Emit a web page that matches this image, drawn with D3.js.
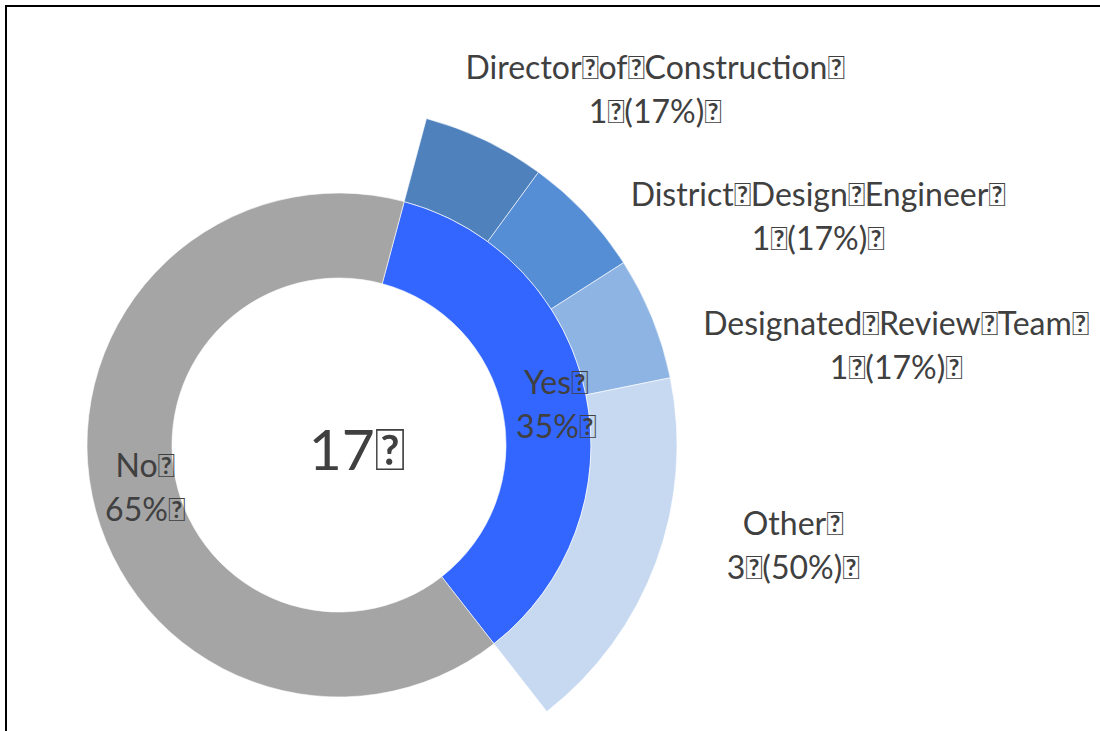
<!DOCTYPE html>
<html><head><meta charset="utf-8">
<script src="https://cdn.jsdelivr.net/npm/d3@7"></script>
<style>html,body{margin:0;padding:0;background:#fff;overflow:hidden}</style>
</head><body>
<svg id="c" width="1100" height="731"></svg>
<script>
const T = "\uE000";
const innerCats = ["Yes", "No"];
const innerVals = [6, 11];
const outerCats = ["Director of Construction", "District Design Engineer", "Designated Review Team", "Other"];
const outerVals = [1, 1, 1, 3];
const totalLabel = "17";

const innerColors = ["#3366FF", "#A5A5A5"];
const outerColors = ["#4F81BD", "#558ED5", "#8EB4E3", "#C6D9F1"];

const svg = d3.select("#c");
const cx = 339, cy = 445;
const r0 = 167, r1 = 252, r2 = 338;
const startDeg = 15;
const font = "Lato, 'Open Sans', sans-serif";
const txtColor = "#404040";

svg.append("rect").attr("x", 6).attr("y", 6).attr("width", 1200).attr("height", 800)
  .attr("fill", "none").attr("stroke", "#000").attr("stroke-width", 2);

const g = svg.append("g").attr("transform", `translate(${cx},${cy})`);
const rad = d => d * Math.PI / 180;
const innerTotal = d3.sum(innerVals);

const pieInner = d3.pie().sort(null).startAngle(rad(startDeg)).endAngle(rad(startDeg + 360));
const innerArcs = pieInner(innerVals);
const arcInner = d3.arc().innerRadius(r0).outerRadius(r1);
g.selectAll("path.in").data(innerArcs).enter().append("path").attr("class", "in")
  .attr("d", arcInner).attr("fill", (d, i) => innerColors[i])
  .attr("stroke", "#fff").attr("stroke-width", 0.6);

const yesEnd = innerArcs[0].endAngle;
const pieOuter = d3.pie().sort(null).startAngle(rad(startDeg)).endAngle(yesEnd);
const outerArcs = pieOuter(outerVals);
const arcOuter = d3.arc().innerRadius(r1).outerRadius(r2);
g.selectAll("path.out").data(outerArcs).enter().append("path").attr("class", "out")
  .attr("d", arcOuter).attr("fill", (d, i) => outerColors[i])
  .attr("stroke", "#fff").attr("stroke-width", 0.6);

function label(x, y, lines, size) {
  const t = g.append("text").attr("text-anchor", "middle")
    .attr("font-family", font).attr("font-size", size).attr("fill", txtColor);
  lines.forEach((s, i) => {
    t.append("tspan").attr("x", x).attr("y", y + i * 44).text(s);
  });
}
const fmt = v => Math.round(v * 100) + "%";

// inner labels (offsets relative to centre)
const innerLabelPos = [[217, -51], [-194, 32]];
innerCats.forEach((c, i) => {
  const p = innerLabelPos[i];
  label(p[0], p[1], [c + T, fmt(innerVals[i] / innerTotal) + T], 32);
});

const outerTotal = d3.sum(outerVals);
const outerLabelPos = [[316, -366], [479, -239], [557, -110], [454, 90]];
outerCats.forEach((c, i) => {
  const p = outerLabelPos[i];
  label(p[0], p[1], [c.split(" ").join(T) + T, outerVals[i] + T + "(" + fmt(outerVals[i] / outerTotal) + ")" + T], 32);
});

g.append("text").attr("x", 18).attr("y", 25).attr("text-anchor", "middle")
  .attr("font-family", font).attr("font-size", 57).attr("fill", txtColor).text(totalLabel + T);
</script>
</body></html>
